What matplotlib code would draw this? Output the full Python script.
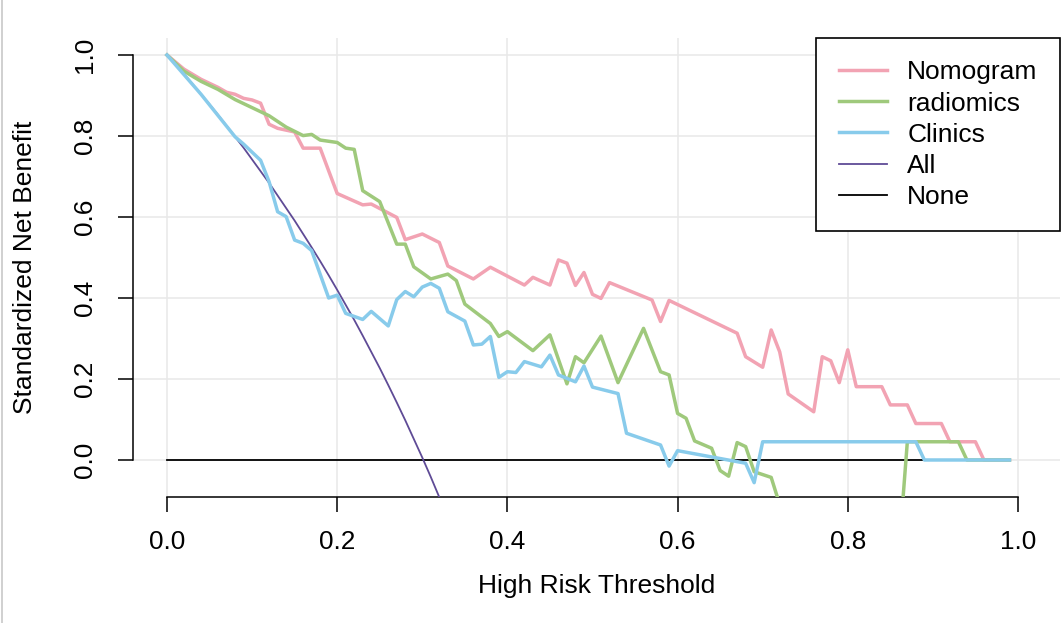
import matplotlib
matplotlib.use("Agg")
import matplotlib.pyplot as plt
from matplotlib.lines import Line2D

plt.rcParams['font.family'] = ['Liberation Sans', 'DejaVu Sans']

# Nomogram
nomo_x = [0.00, 0.02, 0.04, 0.06, 0.07, 0.08, 0.09, 0.10, 0.11, 0.12, 0.13, 0.15,
          0.16, 0.18, 0.20, 0.23, 0.24, 0.27, 0.28, 0.30, 0.32, 0.33, 0.36, 0.38,
          0.42, 0.43, 0.45, 0.46, 0.47, 0.48, 0.49, 0.50, 0.51, 0.52, 0.57, 0.58,
          0.59, 0.67, 0.68, 0.70, 0.71, 0.72, 0.73, 0.76, 0.77, 0.78, 0.79, 0.80,
          0.81, 0.84, 0.85, 0.87, 0.88, 0.91, 0.92, 0.95, 0.96, 0.99]
nomo_y = [1.000, 0.965, 0.940, 0.920, 0.908, 0.903, 0.893, 0.889, 0.881, 0.829, 0.819, 0.810,
          0.770, 0.770, 0.658, 0.630, 0.632, 0.599, 0.544, 0.558, 0.537, 0.479, 0.447, 0.476,
          0.432, 0.451, 0.432, 0.494, 0.486, 0.431, 0.463, 0.409, 0.399, 0.438, 0.395, 0.342,
          0.394, 0.313, 0.255, 0.229, 0.321, 0.267, 0.163, 0.119, 0.255, 0.245, 0.191, 0.272,
          0.181, 0.181, 0.136, 0.136, 0.090, 0.090, 0.045, 0.045, 0.000, 0.000]

# radiomics
radi_x = [0.00, 0.02, 0.04, 0.06, 0.08, 0.10, 0.12, 0.14, 0.16, 0.17, 0.18, 0.20,
          0.21, 0.22, 0.23, 0.25, 0.27, 0.28, 0.29, 0.31, 0.33, 0.34, 0.35, 0.38,
          0.39, 0.40, 0.43, 0.45, 0.47, 0.48, 0.49, 0.51, 0.53, 0.56, 0.58, 0.59,
          0.60, 0.61, 0.62, 0.64, 0.65, 0.66, 0.67, 0.68, 0.69, 0.71, 0.72, 0.73,
          0.80, 0.86, 0.87, 0.93, 0.94, 0.99]
radi_y = [1.000, 0.960, 0.935, 0.915, 0.890, 0.870, 0.850, 0.822, 0.801, 0.804, 0.790, 0.784,
          0.770, 0.767, 0.665, 0.638, 0.533, 0.533, 0.477, 0.447, 0.459, 0.443, 0.385, 0.337,
          0.305, 0.317, 0.270, 0.309, 0.188, 0.255, 0.240, 0.306, 0.191, 0.325, 0.218, 0.210,
          0.115, 0.103, 0.047, 0.029, -0.026, -0.040, 0.043, 0.033, -0.029, -0.043, -0.110, -0.200,
          -0.250, -0.230, 0.045, 0.045, 0.000, 0.000]

# Clinics
clin_x = [0.00, 0.04, 0.08, 0.09, 0.10, 0.11, 0.12, 0.13, 0.14, 0.15, 0.16, 0.17,
          0.19, 0.20, 0.21, 0.23, 0.24, 0.26, 0.27, 0.28, 0.29, 0.30, 0.31, 0.32,
          0.33, 0.35, 0.36, 0.37, 0.38, 0.39, 0.40, 0.41, 0.42, 0.44, 0.45, 0.46,
          0.48, 0.49, 0.50, 0.53, 0.54, 0.58, 0.59, 0.60, 0.68, 0.69, 0.70, 0.88,
          0.89, 0.99]
clin_y = [1.000, 0.903, 0.798, 0.780, 0.760, 0.740, 0.687, 0.613, 0.601, 0.543, 0.535, 0.517,
          0.400, 0.407, 0.362, 0.347, 0.367, 0.331, 0.396, 0.416, 0.403, 0.427, 0.436, 0.424,
          0.366, 0.343, 0.284, 0.286, 0.305, 0.204, 0.218, 0.216, 0.243, 0.230, 0.259, 0.210,
          0.193, 0.232, 0.180, 0.164, 0.066, 0.037, -0.015, 0.023, -0.008, -0.056, 0.045, 0.045,
          0.000, 0.000]

# Treat all
all_x = [0.00, 0.01, 0.02, 0.03, 0.04, 0.05, 0.06, 0.07, 0.08, 0.09, 0.10, 0.11,
         0.12, 0.13, 0.14, 0.15, 0.16, 0.17, 0.18, 0.19, 0.20, 0.21, 0.22, 0.23,
         0.24, 0.25, 0.26, 0.27, 0.28, 0.29, 0.30, 0.31, 0.32, 0.33]
all_y = [1.000, 0.977, 0.953, 0.928, 0.903, 0.878, 0.852, 0.825, 0.798, 0.771, 0.742, 0.713,
         0.684, 0.653, 0.622, 0.591, 0.558, 0.525, 0.491, 0.456, 0.420, 0.383, 0.346, 0.307,
         0.267, 0.227, 0.185, 0.142, 0.098, 0.052, 0.006, -0.042, -0.092, -0.143]

# Treat none
none_x = [0.00, 0.99]
none_y = [0.0, 0.0]

ticks = [0.0, 0.2, 0.4, 0.6, 0.8, 1.0]
tick_labels = ['0.0', '0.2', '0.4', '0.6', '0.8', '1.0']

names = ['Nomogram', 'radiomics', 'Clinics', 'All', 'None']
colors = ['#f2a3b3', '#9fc97c', '#88cbeb', '#5f4b96', 'black']
widths = [2.5, 2.5, 2.5, 1.3, 1.3]

fig = plt.figure(figsize=(10.63, 6.23), dpi=100)
ax = fig.add_axes([133 / 1063, 1 - 497 / 623, 927 / 1063, 459 / 623])

ax.plot(none_x, none_y, color=colors[4], lw=widths[4], zorder=2)
ax.plot(all_x, all_y, color=colors[3], lw=widths[3], zorder=3)
ax.plot(nomo_x, nomo_y, color=colors[0], lw=widths[0], zorder=4)
ax.plot(radi_x, radi_y, color=colors[1], lw=widths[1], zorder=5)
ax.plot(clin_x, clin_y, color=colors[2], lw=widths[2], zorder=6)

ax.set_xlim(-0.03995, 1.0494)
ax.set_ylim(-0.0914, 1.042)

ax.grid(True, color='#e8e8e8', lw=1.1, zorder=0)
ax.set_axisbelow(True)

for side in ['top', 'right']:
    ax.spines[side].set_visible(False)
ax.spines['left'].set_bounds(0, 1)
ax.spines['bottom'].set_bounds(0, 1)
ax.spines['left'].set_linewidth(1.1)
ax.spines['bottom'].set_linewidth(1.1)

ax.set_xticks(ticks)
ax.set_xticklabels(tick_labels)
ax.set_yticks(ticks)
ax.set_yticklabels(tick_labels, rotation=90, va='center')
ax.tick_params(direction='out', length=11, width=1.1, labelsize=18.8, pad=13)
ax.tick_params(axis='y', pad=15)

ax.set_xlabel('High Risk Threshold', fontsize=19, labelpad=14)
ax.set_ylabel('Standardized Net Benefit', fontsize=19, labelpad=26)

handles = [Line2D([], [], color=c, lw=w) for c, w in zip(colors, widths)]
leg = ax.legend(handles, names, loc='upper right', bbox_to_anchor=(1.0, 1.0),
                borderaxespad=0, fontsize=19, fancybox=False, framealpha=1,
                edgecolor='black', handlelength=1.85, handletextpad=0.75,
                labelspacing=0.27, borderpad=0.85)
leg.get_frame().set_linewidth(1.2)
leg.set_zorder(10)

fig.add_artist(Line2D([0.002, 0.002], [0, 1], transform=fig.transFigure,
                      color='#c8c8c8', lw=1.2))

fig.savefig('out.png', dpi=100)
